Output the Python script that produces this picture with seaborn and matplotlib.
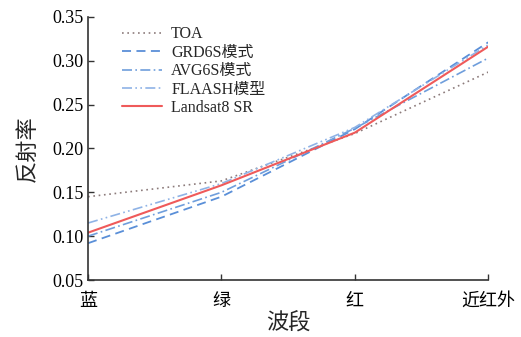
import matplotlib
matplotlib.use("Agg")
import matplotlib.pyplot as plt
import seaborn as sns
import pandas as pd

bands = ["蓝", "绿", "红", "近红外"]
toa = [0.145, 0.163, 0.217, 0.287]
grd6s = [0.092, 0.145, 0.222, 0.321]
avg6s = [0.100, 0.150, 0.223, 0.303]
flaash = [0.115, 0.160, 0.224, 0.318]
landsat_sr = [0.104, 0.158, 0.218, 0.316]

series = [
    ("TOA", toa, "#8c7b7b", (0, (1, 2.2)), 1.2),
    ("GRD6S模式", grd6s, "#5a8fd8", (0, (5, 3)), 1.3),
    ("AVG6S模式", avg6s, "#6f9edc", (0, (6, 2, 1, 2)), 1.2),
    ("FLAASH模型", flaash, "#8fb3e6", (0, (6, 2, 1, 2, 1, 2)), 1.2),
    ("Landsat8 SR", landsat_sr, "#ef5a5a", "-", 1.5),
]

sns.set_theme(style="ticks")
plt.rcParams["font.family"] = ["Liberation Serif", "Noto Sans CJK SC"]

fig = plt.figure(figsize=(5.21, 3.37), dpi=100)
ax = fig.add_axes([0.169, 0.169, 0.768, 0.781])

xpos = list(range(len(bands)))
for name, vals, color, ls, lw in series:
    df = pd.DataFrame({"x": xpos, "y": vals})
    sns.lineplot(data=df, x="x", y="y", ax=ax, color=color, linestyle=ls,
                 linewidth=lw, label=name)

ax.set_xlim(0, 3)
ax.set_ylim(0.05, 0.35)
ax.set_xticks(xpos)
ax.set_xticklabels(bands, fontsize=13)
ax.set_yticks([0.05, 0.10, 0.15, 0.20, 0.25, 0.30, 0.35])
ax.set_yticklabels(["0.05", "0.10", "0.15", "0.20", "0.25", "0.30", "0.35"], fontsize=13)
ax.tick_params(direction="in", length=4, width=1, colors="#333333", pad=3)
ax.tick_params(axis="x", pad=9)
for lbl in ax.get_xticklabels() + ax.get_yticklabels():
    lbl.set_color("black")
ax.set_xlabel("波段", fontsize=16, labelpad=3)
ax.set_ylabel("反射率", fontsize=16, labelpad=10)
for s in ["top", "right"]:
    ax.spines[s].set_visible(False)
for s in ["left", "bottom"]:
    ax.spines[s].set_color("#333333")
    ax.spines[s].set_linewidth(1.2)

leg = ax.legend(loc="upper left", bbox_to_anchor=(0.06, 1.0), frameon=False,
                fontsize=11.5, handlelength=2.5, handletextpad=0.6,
                labelspacing=0.15, borderaxespad=0.2)

fig.savefig("out.png", dpi=100)
